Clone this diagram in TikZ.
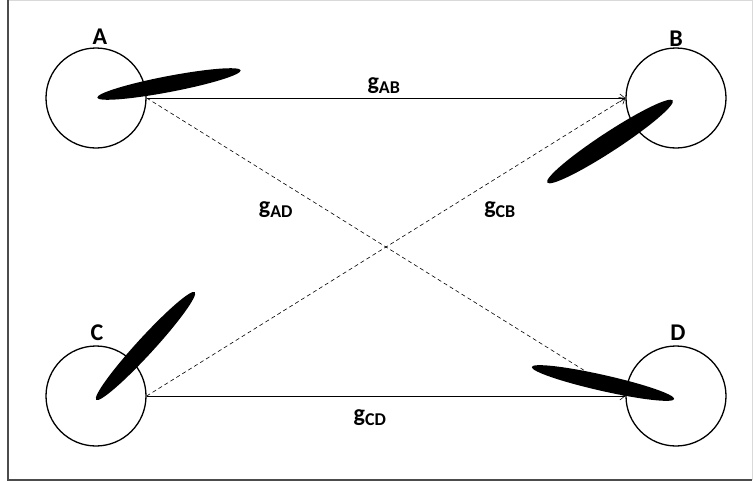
\documentclass[tikz,border=0pt]{standalone}
\usepackage{fontspec}
\setmainfont{Carlito}
\usetikzlibrary{arrows.meta}
\begin{document}
\begin{tikzpicture}[x=1pt,y=-1pt,
  station/.style={circle,draw,line width=1.3pt,minimum size=100pt,inner sep=0pt},
  lbl/.style={font=\fontsize{24}{26}\selectfont\bfseries,inner sep=0pt},
  glbl/.style={font=\fontsize{24}{26}\selectfont\bfseries,inner sep=0pt},
  link/.style={line width=0.6pt,-{Straight Barb[length=5pt,width=8pt]}},
  dlink/.style={link,dashed,dash pattern=on 4pt off 3pt},
  beam/.style={fill=black}]
\useasboundingbox (0,0) rectangle (756,482);
\fill[white] (0,0) rectangle (756,482);
\draw[gray!30,line width=1pt] (8,0.5) -- (752,0.5) -- (752,480);
\draw[black!70,line width=1.2pt] (8,0) -- (8,480) -- (752,480);

\node[station] (A) at (96,98) {};
\node[station] (B) at (676,98) {};
\node[station] (C) at (96,396) {};
\node[station] (D) at (676,396) {};

\node[lbl] (la) at (100,37) {A};
\node[lbl] (lb) at (676,39) {B};
\node[lbl] (lc) at (97,333) {C};
\node[lbl] (ld) at (678,333) {D};

\draw[link] (A.east) -- (B.west);
\draw[link] (C.east) -- (D.west);
\draw[dlink] (A.east) -- (D.west);
\draw[dlink] (C.east) -- (B.west);

\fill[beam,rotate around={10.8:(169,84)}] (169,84) ellipse [x radius=73, y radius=8];
\fill[beam,rotate around={33.2:(610,141.5)}] (610,141.5) ellipse [x radius=75, y radius=9.5];
\fill[beam,rotate around={47.5:(145.5,346)}] (145.5,346) ellipse [x radius=73, y radius=8.5];
\fill[beam,rotate around={-12.7:(603,383)}] (603,383) ellipse [x radius=73, y radius=8];

\node[glbl] (gab) at (384,86) {g\textsubscript{\fontsize{18}{19}\selectfont AB}};
\node[glbl] (gad) at (276,210) {g\textsubscript{\fontsize{18}{19}\selectfont AD}};
\node[glbl] (gcb) at (500,210) {g\textsubscript{\fontsize{18}{19}\selectfont CB}};
\node[glbl] (gcd) at (370,418) {g\textsubscript{\fontsize{18}{19}\selectfont CD}};
\end{tikzpicture}
\end{document}
